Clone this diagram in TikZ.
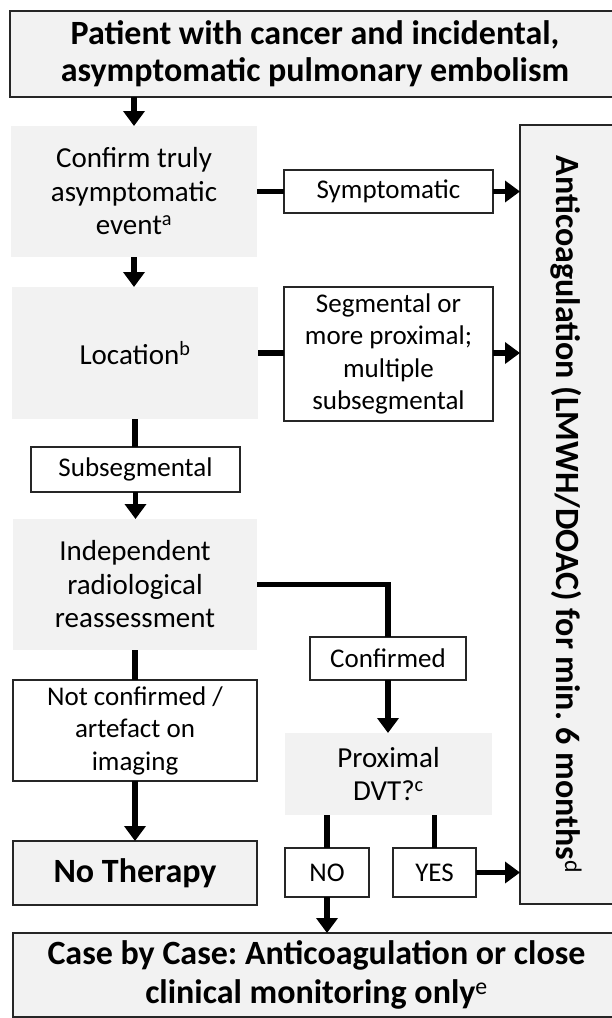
\documentclass[tikz,border=0pt]{standalone}
\usepackage{fontspec}
\setmainfont{Carlito}
\usetikzlibrary{arrows.meta}
\definecolor{boxgray}{HTML}{F2F2F2}
\definecolor{edge}{HTML}{262626}
\frenchspacing
\begin{document}
\begin{tikzpicture}[x=1pt,y=-1pt,
  every node/.style={inner sep=0pt, outer sep=0pt, align=center, font=\fontsize{27}{32.5}\selectfont},
  sz/.style 2 args={minimum width=#1pt, minimum height=#2pt},
  graybox/.style={fill=boxgray, font=\fontsize{29}{33.5}\selectfont},
  framed/.style={draw=edge, line width=2pt, fill=white},
  grayframed/.style={draw=edge, line width=2pt, fill=boxgray},
  bigtext/.style={font=\fontsize{34}{37}\selectfont\bfseries},
  conn/.style={line width=5.5pt},
  arr/.style={line width=5.5pt, -{Triangle[length=15pt,width=21pt]}},
]
\clip (0,0) rectangle (612,1018);
\fill[white] (0,0) rectangle (612,1018);

% nodes
\node[grayframed, sz={610}{86}, bigtext] (top) at (315,54)
  {Patient with cancer and incidental,\\asymptomatic pulmonary embolism};
\node[graybox, sz={246}{131}] (confirm) at (134,191.5)
  {Confirm truly\\asymptomatic\\event\textsuperscript{a}};
\node[framed, sz={209}{43}] (sympt) at (388.5,191.5) {Symptomatic};
\node[grayframed, sz={96}{779}] (anti) at (568,514.5) {};
\node[rotate=-90, font=\fontsize{34}{38}\selectfont\bfseries] (antitext) at (566,514.5)
  {Anticoagulation (LMWH/DOAC) for min. 6 months\textsuperscript{\normalfont d}};
\node[graybox, sz={246}{132}] (loc) at (135,353) {Location\textsuperscript{b}};
\node[framed, sz={209}{134}] (seg) at (388.5,354)
  {Segmental or\\more proximal;\\multiple\\subsegmental};
\node[framed, sz={209}{45}] (subseg) at (135.5,469.5) {Subsegmental};
\node[graybox, sz={244}{131}] (indep) at (135,584.5)
  {Independent\\radiological\\reassessment};
\node[framed, sz={244}{101}] (notconf) at (135,730.5)
  {Not confirmed /\\artefact on\\imaging};
\node[grayframed, sz={244}{64}, bigtext] (nother) at (135,873) {No Therapy};
\node[framed, sz={156}{43}] (conf) at (388,658.5) {Confirmed};
\node[graybox, sz={207}{82}] (prox) at (388.5,774) {Proximal\\DVT?\textsuperscript{c}};
\node[framed, sz={84}{49}] (no) at (327,872.5) {NO};
\node[framed, sz={83}{49}] (yes) at (434.5,872.5) {YES};
\node[grayframed, sz={607}{84}, font=\fontsize{34}{39}\selectfont\bfseries] (bottom) at (316.5,975)
  {Case by Case: Anticoagulation or close\\clinical monitoring only\textsuperscript{\normalfont e}};

% connectors
\draw[arr] (confirm.north |- top.south) -- (confirm.north);
\draw[conn] (confirm.east) -- (sympt.west);
\draw[arr] (sympt.east) -- (sympt.east -| anti.west);
\draw[arr] (confirm.south) -- (confirm.south |- loc.north);
\draw[conn] (loc.east) -- (loc.east -| seg.west);
\draw[arr] (loc.east -| seg.east) -- (loc.east -| anti.west);
\draw[conn] (loc.south) -- (loc.south |- subseg.north);
\draw[arr] (subseg.south) -- (subseg.south |- indep.north);
\draw[conn] (indep.east) -| (conf.north);
\draw[arr] (conf.south) -- (conf.south |- prox.north);
\draw[conn] (indep.south) -- (indep.south |- notconf.north);
\draw[arr] (notconf.south) -- (notconf.south |- nother.north);
\draw[conn] (no.north |- prox.south) -- (no.north);
\draw[conn] (yes.north |- prox.south) -- (yes.north);
\draw[arr] (yes.east) -- (yes.east -| anti.west);
\draw[arr] (no.south) -- (no.south |- bottom.north);
\end{tikzpicture}
\end{document}
